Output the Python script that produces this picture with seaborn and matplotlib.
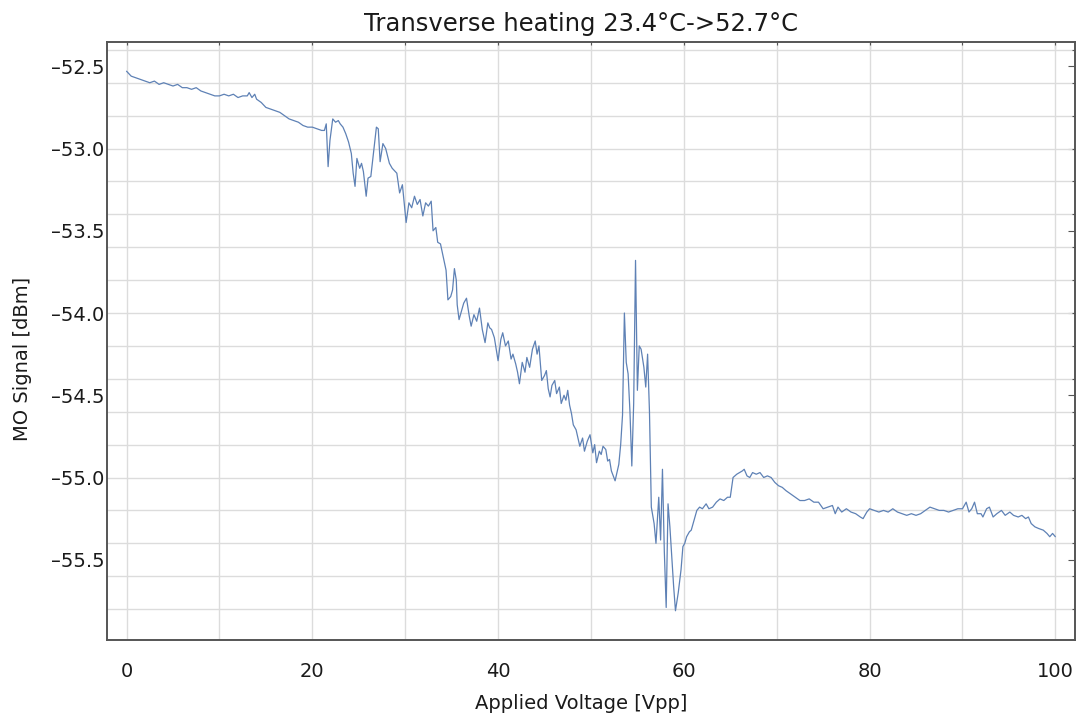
"""
plot.py — MO signal vs applied voltage (transverse heating run)
"""

import matplotlib
matplotlib.use('Agg')
import matplotlib.pyplot as plt
from matplotlib.ticker import MultipleLocator, FuncFormatter
import seaborn as sns

# ── Data ─────────────────────────────────────────────────────────────────────
voltage = [
    0.0, 0.5, 1.0, 1.5, 2.0, 2.5, 3.0, 3.5, 4.0, 4.5, 5.0, 5.5, 6.0, 6.5, 7.0,
    7.5, 8.0, 8.5, 9.0, 9.5, 10.0, 10.5, 11.0, 11.5, 12.0, 12.5, 13.0, 13.2,
    13.5, 13.8, 14.0, 14.5, 15.0, 15.5, 16.0, 16.5, 17.0, 17.5, 18.0, 18.5,
    19.0, 19.5, 20.0, 20.5, 21.0, 21.3, 21.5, 21.7, 21.9, 22.2, 22.5, 22.8,
    23.0, 23.3, 23.6, 23.9, 24.2, 24.4, 24.6, 24.8, 25.1, 25.3, 25.5, 25.8,
    26.0, 26.3, 26.6, 26.9, 27.1, 27.3, 27.6, 27.9, 28.3, 28.6, 29.1, 29.4,
    29.7, 30.1, 30.4, 30.7, 31.0, 31.3, 31.6, 31.9, 32.2, 32.5, 32.8, 33.0,
    33.3, 33.5, 33.8, 34.1, 34.4, 34.6, 34.9, 35.1, 35.3, 35.5, 35.6, 35.8,
    36.1, 36.3, 36.6, 36.9, 37.1, 37.4, 37.7, 38.0, 38.3, 38.6, 38.9, 39.1,
    39.3, 39.6, 40.0, 40.3, 40.5, 40.8, 41.1, 41.4, 41.6, 41.9, 42.1, 42.3,
    42.6, 42.9, 43.1, 43.4, 43.7, 44.0, 44.2, 44.4, 44.7, 45.0, 45.2, 45.4,
    45.6, 45.8, 46.1, 46.3, 46.6, 46.8, 47.1, 47.3, 47.5, 47.7, 47.9, 48.1,
    48.4, 48.6, 48.8, 49.1, 49.3, 49.6, 49.9, 50.2, 50.4, 50.6, 50.9, 51.1,
    51.3, 51.6, 51.8, 52.0, 52.2, 52.4, 52.6, 52.8, 53.0, 53.2, 53.4, 53.6,
    53.8, 54.0, 54.2, 54.4, 54.6, 54.8, 55.0, 55.2, 55.4, 55.7, 55.9, 56.1,
    56.3, 56.5, 56.8, 57.0, 57.3, 57.5, 57.7, 57.9, 58.1, 58.3, 58.5, 58.7,
    58.9, 59.1, 59.4, 59.7, 59.9, 60.1, 60.3, 60.6, 60.8, 61.1, 61.4, 61.7,
    62.0, 62.4, 62.7, 63.1, 63.5, 63.9, 64.3, 64.7, 65.0, 65.3, 65.7, 66.0,
    66.3, 66.5, 66.8, 67.1, 67.4, 67.8, 68.2, 68.6, 69.0, 69.4, 69.8, 70.2,
    70.6, 71.0, 71.5, 72.0, 72.5, 73.0, 73.5, 74.0, 74.5, 75.0, 75.5, 76.0,
    76.3, 76.6, 77.0, 77.5, 78.0, 78.5, 79.0, 79.3, 79.7, 80.0, 80.5, 81.0,
    81.5, 82.0, 82.5, 83.0, 83.5, 84.0, 84.5, 85.0, 85.5, 86.0, 86.5, 87.0,
    87.5, 88.0, 88.5, 89.0, 89.5, 90.0, 90.4, 90.7, 91.0, 91.3, 91.6, 92.0,
    92.2, 92.6, 92.9, 93.3, 93.7, 94.2, 94.6, 95.1, 95.5, 96.0, 96.4, 96.8,
    97.1, 97.4, 97.8, 98.2, 98.7, 99.1, 99.4, 99.7, 100.0,
]

mo_signal = [
    -52.53, -52.56, -52.57, -52.58, -52.59, -52.60, -52.59, -52.61, -52.60,
    -52.61, -52.62, -52.61, -52.63, -52.63, -52.64, -52.63, -52.65, -52.66,
    -52.67, -52.68, -52.68, -52.67, -52.68, -52.67, -52.69, -52.68, -52.68,
    -52.66, -52.69, -52.67, -52.70, -52.72, -52.75, -52.76, -52.77, -52.78,
    -52.80, -52.82, -52.83, -52.84, -52.86, -52.87, -52.87, -52.88, -52.89,
    -52.89, -52.85, -53.11, -52.95, -52.82, -52.84, -52.83, -52.85, -52.87,
    -52.91, -52.96, -53.03, -53.15, -53.23, -53.06, -53.12, -53.09, -53.14,
    -53.29, -53.18, -53.17, -53.02, -52.87, -52.88, -53.08, -52.97, -53.00,
    -53.09, -53.12, -53.15, -53.27, -53.22, -53.45, -53.33, -53.36, -53.29,
    -53.34, -53.31, -53.41, -53.33, -53.35, -53.32, -53.50, -53.48, -53.57,
    -53.58, -53.66, -53.74, -53.92, -53.90, -53.86, -53.73, -53.80, -53.95,
    -54.04, -53.98, -53.94, -53.91, -54.02, -54.08, -54.01, -54.05, -53.97,
    -54.10, -54.18, -54.06, -54.09, -54.10, -54.15, -54.29, -54.16, -54.12,
    -54.20, -54.17, -54.28, -54.25, -54.31, -54.36, -54.43, -54.30, -54.36,
    -54.27, -54.33, -54.22, -54.17, -54.25, -54.20, -54.41, -54.38, -54.35,
    -54.46, -54.51, -54.44, -54.41, -54.49, -54.45, -54.55, -54.50, -54.53,
    -54.47, -54.56, -54.61, -54.68, -54.71, -54.76, -54.81, -54.76, -54.84,
    -54.78, -54.74, -54.85, -54.80, -54.91, -54.84, -54.86, -54.81, -54.83,
    -54.90, -54.89, -54.96, -54.99, -55.02, -54.97, -54.92, -54.80, -54.62,
    -54.00, -54.30, -54.37, -54.60, -54.93, -54.55, -53.68, -54.47, -54.20,
    -54.22, -54.33, -54.45, -54.25, -54.60, -55.18, -55.28, -55.40, -55.12,
    -55.38, -54.95, -55.45, -55.79, -55.16, -55.30, -55.48, -55.66, -55.81,
    -55.70, -55.56, -55.42, -55.40, -55.36, -55.33, -55.32, -55.26, -55.20,
    -55.18, -55.19, -55.16, -55.19, -55.18, -55.15, -55.13, -55.14, -55.12,
    -55.12, -55.00, -54.98, -54.97, -54.96, -54.95, -54.99, -55.00, -54.97,
    -54.98, -54.97, -55.00, -54.99, -55.00, -55.03, -55.05, -55.06, -55.08,
    -55.10, -55.12, -55.14, -55.14, -55.13, -55.15, -55.15, -55.19, -55.18,
    -55.17, -55.22, -55.18, -55.21, -55.19, -55.21, -55.22, -55.24, -55.25,
    -55.21, -55.19, -55.20, -55.21, -55.20, -55.21, -55.19, -55.21, -55.22,
    -55.23, -55.22, -55.23, -55.22, -55.20, -55.18, -55.19, -55.20, -55.20,
    -55.21, -55.20, -55.19, -55.19, -55.15, -55.21, -55.19, -55.15, -55.22,
    -55.22, -55.24, -55.19, -55.18, -55.24, -55.22, -55.20, -55.23, -55.21,
    -55.23, -55.24, -55.23, -55.25, -55.24, -55.28, -55.30, -55.31, -55.32,
    -55.34, -55.36, -55.34, -55.36,
]

TITLE  = 'Transverse heating 23.4°C->52.7°C'
XLABEL = 'Applied Voltage [Vpp]'
YLABEL = 'MO Signal [dBm]'

LINE_COLOR  = '#5e81b5'
GRID_COLOR  = '#dcdcdc'
FRAME_COLOR = '#555555'
TEXT_COLOR  = '#1a1a1a'


def main():
    sns.set_style('white')
    plt.rcParams['font.family'] = ['DejaVu Sans']

    fig = plt.figure(figsize=(10.77, 7.14), dpi=100)
    ax = fig.add_axes([0.0994, 0.1043, 0.8986, 0.8365])

    sns.lineplot(x=voltage, y=mo_signal, ax=ax, color=LINE_COLOR,
                 linewidth=0.9, estimator=None, sort=False, zorder=3)

    ax.set_xlim(-2.1, 102.1)
    ax.set_ylim(-55.985, -52.354)

    # ticks: labels on majors, grid on minors
    ax.xaxis.set_major_locator(MultipleLocator(20))
    ax.xaxis.set_minor_locator(MultipleLocator(10))
    ax.yaxis.set_major_locator(MultipleLocator(0.5))
    ax.yaxis.set_minor_locator(MultipleLocator(0.2))
    ax.xaxis.remove_overlapping_locs = False
    ax.yaxis.remove_overlapping_locs = False
    ax.xaxis.set_major_formatter(FuncFormatter(lambda v, _: f'{v:.0f}'))
    ax.yaxis.set_major_formatter(
        FuncFormatter(lambda v, _: f'{v:.1f}'.replace('-', '\u2013')))

    ax.grid(False, which='major')
    ax.grid(True, which='minor', color=GRID_COLOR, linewidth=1.0)

    ax.tick_params(which='both', direction='in', top=True, right=True,
                   color=FRAME_COLOR, width=0.8)
    ax.tick_params(which='major', length=5)
    ax.tick_params(which='minor', length=2.5)
    ax.tick_params(axis='x', which='major', labelsize=14, pad=16, labelcolor=TEXT_COLOR)
    ax.tick_params(axis='y', which='major', labelsize=14, pad=2, labelcolor=TEXT_COLOR)

    for side in ax.spines.values():
        side.set_color(FRAME_COLOR)
        side.set_linewidth(1.4)

    ax.set_title(TITLE, fontsize=17.5, color=TEXT_COLOR, x=0.49, pad=8)
    ax.set_xlabel(XLABEL, fontsize=14, color=TEXT_COLOR)
    ax.set_ylabel(YLABEL, fontsize=14, color=TEXT_COLOR)
    ax.xaxis.set_label_coords(0.49, -0.092)
    ax.yaxis.set_label_coords(-0.078, 0.47)

    fig.savefig('out.png', dpi=100)


if __name__ == '__main__':
    main()
